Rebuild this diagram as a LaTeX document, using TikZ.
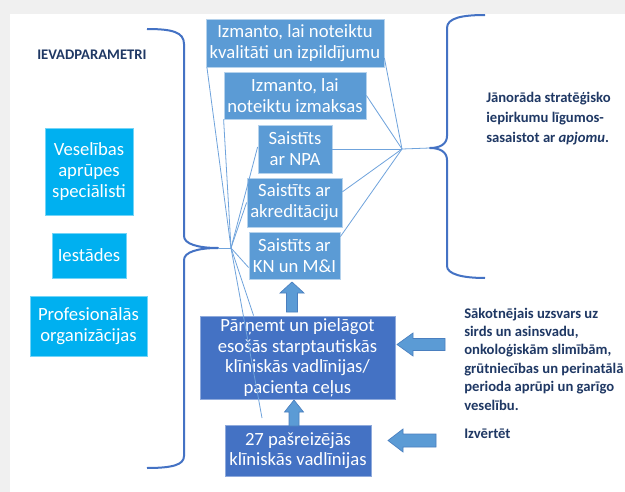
\documentclass[tikz,border=0pt]{standalone}
\usepackage{fontspec}
\setmainfont{Carlito}
\definecolor{bgray}{HTML}{F0F0F0}
\definecolor{lblue}{HTML}{5B9BD5}
\definecolor{dblue}{HTML}{4472C4}
\definecolor{cyanb}{HTML}{00B0F0}
\definecolor{navy}{HTML}{1F3864}
\definecolor{bracec}{HTML}{4472C4}
\definecolor{fanc}{HTML}{6FA3DC}
\definecolor{arrowc}{HTML}{5B9BD5}
\definecolor{arrowe}{HTML}{4A7FBF}
\tikzset{
  boxtext/.style={align=center, text=white, inner sep=0pt, font=\fontsize{14}{15.75}\selectfont},
  topbox/.style={boxtext, fill=lblue, draw=white!55!lblue, line width=0.6pt},
  lowbox/.style={boxtext, fill=dblue, draw=white!40!dblue, line width=0.6pt, font=\fontsize{14}{15.4}\selectfont},
  cybox/.style={boxtext, fill=cyanb, draw=white!45!cyanb, line width=0.6pt},
  lbl/.style={anchor=west, align=left, inner sep=0pt, text=navy, font=\fontsize{11}{13.8}\selectfont\bfseries},
  bracel/.style={draw=bracec, line width=1.5pt, line join=round},
  fan/.style={draw=fanc, line width=0.6pt},
  blockarrow/.style={fill=arrowc, draw=arrowe, line width=0.5pt, line join=miter}
}
\begin{document}
\begin{tikzpicture}[x=0.75pt,y=-0.75pt]
\useasboundingbox (0,0) rectangle (625,492);
\fill[bgray] (0,0) rectangle (625,492);
\fill[white] (10,14) rectangle (625,492);

% left column
\node[lbl] (ievad) at (37,55) {IEVADPARAMETRI};
\node[cybox, minimum width=66pt, minimum height=65.25pt] (c1) at (89,171.5) {Veselības\\aprūpes\\speciālisti};
\node[cybox, minimum width=55.5pt, minimum height=33.75pt] (c2) at (89,255.5) {Iestādes};
\node[cybox, minimum width=87.75pt, minimum height=45pt] (c3) at (88.5,326) {Profesionālās\\organizācijas};

% middle column
\node[topbox, minimum width=133.5pt, minimum height=36pt] (b1) at (295,43) {Izmanto, lai noteiktu\\kvalitāti un izpildījumu};
\node[topbox, minimum width=106.5pt, minimum height=35.25pt] (b2) at (295,95.5) {Izmanto, lai\\noteiktu izmaksas};
\node[topbox, minimum width=55.5pt, minimum height=36pt] (b3) at (295,149) {Saistīts\\ar NPA};
\node[topbox, minimum width=71.25pt, minimum height=36.75pt] (b4) at (294.5,202.5) {Saistīts ar\\akreditāciju};
\node[topbox, minimum width=68.25pt, minimum height=35.25pt] (b5) at (294.5,255.5) {Saistīts ar\\KN un M\&I};
\node[lowbox, minimum width=146.25pt, minimum height=62.25pt] (p) at (297.5,357.5) {Pārņemt un pielāgot\\esošās starptautiskās\\klīniskās vadlīnijas/\\pacienta ceļus};
\node[lowbox, minimum width=109.5pt, minimum height=38.25pt] (k) at (298,450.5) {27 pašreizējās\\klīniskās vadlīnijas};

% right labels
\node[lbl, font=\fontsize{11}{15}\selectfont\bfseries] (jan) at (486,119) {Jānorāda stratēģisko\\iepirkumu līgumos-\\sasaistot ar \textit{apjomu}.};
\node[lbl] (sak) at (464,359) {Sākotnējais uzsvars uz\\sirds un asinsvadu,\\onkoloģiskām slimībām,\\grūtniecības un perinatālā\\perioda aprūpi un garīgo\\veselību.};
\node[lbl] (izv) at (464,434) {Izvērtēt};

% braces
\coordinate (ltip) at (218,248);
\coordinate (L) at (231,248);
\draw[bracel] (147,29) .. controls (172,29) and (184,32) .. (184,44) -- (184,236)
  .. controls (184,244) and (198,248) .. (ltip)
  .. controls (198,248) and (184,252) .. (184,260) -- (184,456)
  .. controls (184,465) and (172,468) .. (147,468);
\coordinate (rtip) at (430,148);
\coordinate (R) at (402,149);
\draw[bracel] (485,15) .. controls (462,15) and (447,18) .. (447,28) -- (447,136)
  .. controls (447,144) and (440,148) .. (rtip)
  .. controls (440,148) and (447,152) .. (447,160) -- (447,266)
  .. controls (447,274) and (462,278) .. (485,278);

% fan lines
\coordinate (kend) at (262,418);
\draw[fan] (ltip) -- (L);
\draw[fan] (L) -- ([xshift=1pt]b1.south west);
\draw[fan] (L) -- (b2.south west);
\draw[fan] (L) -- ([yshift=1.5pt]b3.west);
\draw[fan] (L) -- (b4.west);
\draw[fan] (L) -- ([yshift=-9pt]b5.west);
\draw[fan] (L) -- ([xshift=40.5pt]p.north west);
\draw[fan] (L) -- (kend);
\draw[fan] (rtip) -- (R);
\draw[fan] (R) -- ([yshift=7pt]b1.south east);
\draw[fan] (R) -- (b2.east);
\draw[fan] (R) -- (b3.east);
\draw[fan] (R) -- ([yshift=8pt]b4.east);
\draw[fan] (R) -- ([yshift=-3.75pt]b5.north east);

% block arrows
\draw[blockarrow] (292,282) -- (304,293) -- (297.5,293) -- (297.5,312) -- (286.5,312) -- (286.5,293) -- (280,293) -- cycle;
\draw[blockarrow] (294,400) -- (303.5,412) -- (299,412) -- (299,426) -- (289,426) -- (289,412) -- (284.5,412) -- cycle;
\draw[blockarrow] (397,344.5) -- (413,333) -- (413,338.5) -- (445,338.5) -- (445,350.5) -- (413,350.5) -- (413,356) -- cycle;
\draw[blockarrow] (388,440.5) -- (403,429) -- (403,434) -- (436,434) -- (436,447) -- (403,447) -- (403,452) -- cycle;
\end{tikzpicture}
\end{document}
